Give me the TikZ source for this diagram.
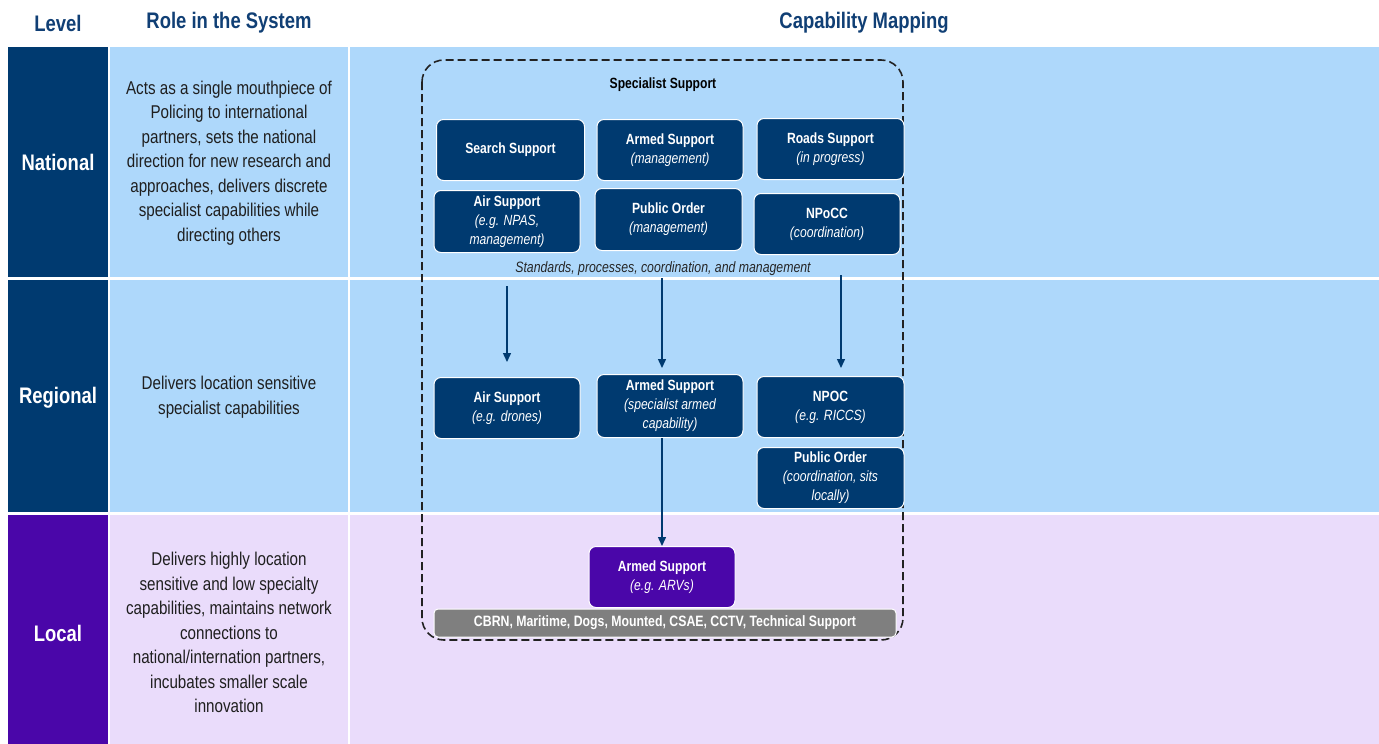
\documentclass[tikz,border=0pt]{standalone}
\usepackage{fontspec}
\setmainfont{Liberation Sans}[FakeStretch=0.82]
\usetikzlibrary{arrows.meta}
\definecolor{navy}{HTML}{003A70}
\definecolor{lblue}{HTML}{AED8FB}
\definecolor{purp}{HTML}{4A06A9}
\definecolor{lav}{HTML}{EADCFB}
\definecolor{headc}{HTML}{103F75}
\definecolor{greybar}{HTML}{7F7F7F}
\definecolor{dashc}{HTML}{222222}
\begin{document}
\begin{tikzpicture}[x=1pt,y=-1pt,
  head/.style={text=headc,font=\fontsize{22.5}{26}\selectfont\bfseries,inner sep=0pt},
  lvl/.style={text=white,font=\fontsize{22.5}{26}\selectfont\bfseries,inner sep=0pt},
  desc/.style={text=black!88,font=\fontsize{18.5}{24.5}\selectfont,align=center,inner sep=0pt},
  capbox/.style={rectangle,rounded corners=7pt,fill=navy,draw=white,line width=1pt,text=white,align=center,
    font=\fontsize{14.8}{19}\selectfont,inner sep=2pt},
  greybox/.style={rectangle,rounded corners=4pt,fill=greybar,draw=white,line width=1pt,text=white,
    font=\fontsize{15}{18}\selectfont\bfseries,inner sep=0pt},
  arr/.style={draw=navy,line width=1.4pt,-{Triangle[length=9pt,width=8pt]}},
  dbox/.style={draw=dashc,line width=1.6pt,dash pattern=on 8pt off 4pt,rounded corners=22pt}
]
\useasboundingbox (0,0) rectangle (1379,744);
\fill[white] (0,0) rectangle (1379,744);
% headings
\node[head] (hLevel) at (58,23) {Level};
\node[head] (hRole) at (229,23) {Role in the System};
\node[head] (hCap) at (864,23) {Capability Mapping};
% row cells
\fill[navy] (8,47) rectangle (108,277);
\fill[lblue] (110,47) rectangle (348,277);
\fill[lblue] (350,47) rectangle (1379,277);
\fill[navy] (8,280) rectangle (108,512);
\fill[lblue] (110,280) rectangle (348,512);
\fill[lblue] (350,280) rectangle (1379,512);
\fill[purp] (8,515) rectangle (108,744);
\fill[lav] (110,515) rectangle (348,744);
\fill[lav] (350,515) rectangle (1379,744);
% level labels
\node[lvl] (lNat) at (58,162) {National};
\node[lvl] (lReg) at (58,398) {Regional};
\node[lvl] (lLoc) at (58,633) {Local};
% descriptions
\node[desc] (dNat) at (229,163) {Acts as a single mouthpiece of\\Policing to international\\partners, sets the national\\direction for new research and\\approaches, delivers discrete\\specialist capabilities while\\directing others};
\node[desc] (dReg) at (229,397) {Delivers location sensitive\\specialist capabilities};
\node[desc] (dLoc) at (229,632.5) {Delivers highly location\\sensitive and low specialty\\capabilities, maintains network\\connections to\\national/internation partners,\\incubates smaller scale\\innovation};
% dashed container
\draw[dbox] (422,60) rectangle (903,640);
\node[font=\fontsize{14.8}{18}\selectfont\bfseries,inner sep=0pt] (spec) at (663,85) {Specialist Support};
% national boxes
\node[capbox,minimum width=148pt,minimum height=61pt] (search) at (510.5,150) {\bfseries Search Support};
\node[capbox,minimum width=146pt,minimum height=61pt] (armN) at (670,150) {\bfseries Armed Support\\\itshape (management)};
\node[capbox,minimum width=147pt,minimum height=61pt] (roads) at (830.5,149) {\bfseries Roads Support\\\itshape (in progress)};
\node[capbox,minimum width=146pt,minimum height=62pt] (airN) at (507,221.5) {\bfseries Air Support\\\itshape (e.g. NPAS,\\\itshape management)};
\node[capbox,minimum width=147pt,minimum height=62pt] (poN) at (668.5,219.5) {\bfseries Public Order\\\itshape (management)};
\node[capbox,minimum width=146pt,minimum height=61pt] (npocc) at (827,224) {\bfseries NPoCC\\\itshape (coordination)};
\node[font=\fontsize{15}{17}\selectfont\itshape,text=black!85,inner sep=0pt] (std) at (663,269) {Standards, processes, coordination, and management};
% regional boxes
\node[capbox,minimum width=146pt,minimum height=61pt] (airR) at (507,408) {\bfseries Air Support\\\itshape (e.g. drones)};
\node[capbox,minimum width=146pt,minimum height=63pt] (armR) at (670,406) {\bfseries Armed Support\\\itshape (specialist armed\\\itshape capability)};
\node[capbox,minimum width=147pt,minimum height=61pt] (npoc) at (830.5,407) {\bfseries NPOC\\\itshape (e.g. RICCS)};
\node[capbox,minimum width=147pt,minimum height=61pt] (poR) at (830.5,478) {\bfseries Public Order\\\itshape (coordination, sits\\\itshape locally)};
% local
\node[capbox,fill=purp,minimum width=146pt,minimum height=61pt] (armL) at (662,577) {\bfseries Armed Support\\\itshape (e.g. ARVs)};
\node[greybox,minimum width=462pt,minimum height=28pt] (grey) at (665,623) {CBRN, Maritime, Dogs, Mounted, CSAE, CCTV, Technical Support};
% arrows
\coordinate (a1s) at (507,286);
\coordinate (a1e) at (507,362);
\coordinate (a2s) at (662,278);
\coordinate (a2e) at (662,368);
\coordinate (a3s) at (841,275);
\coordinate (a3e) at (841,368);
\draw[arr] (a1s) -- (a1e);
\draw[arr] (a2s) -- (a2e);
\draw[arr] (a3s) -- (a3e);
\draw[arr] (armL.north |- armR.south) -- (armL.north);
\end{tikzpicture}
\end{document}
